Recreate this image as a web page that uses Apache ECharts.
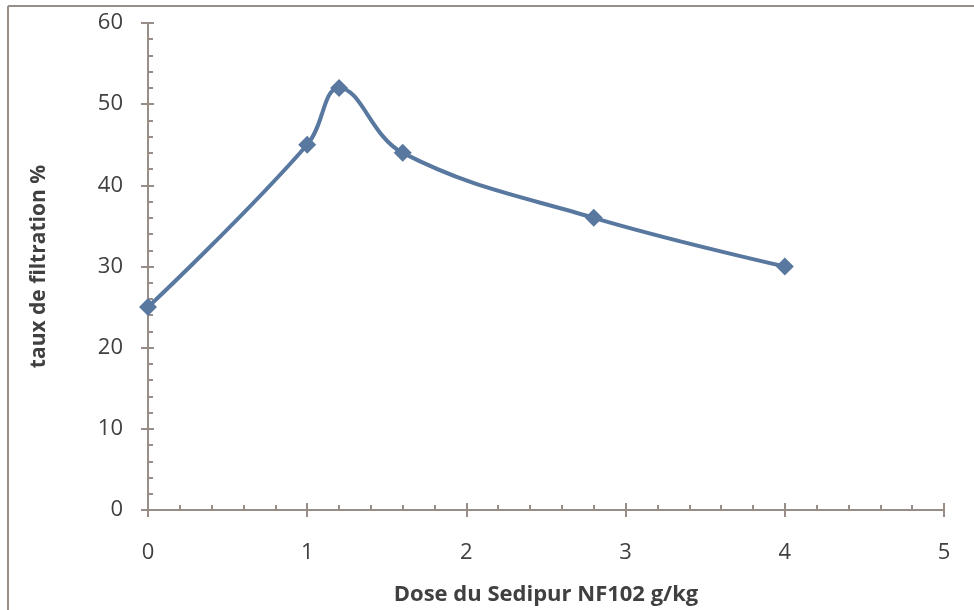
<!DOCTYPE html>
<html><head><meta charset="utf-8">
<script src="https://cdn.jsdelivr.net/npm/echarts@6/dist/echarts.min.js"></script>
<style>html,body{margin:0;padding:0;background:#fff}#c{width:974px;height:610px}</style>
</head><body><div id="c"></div>
<script>
const doses = [0, 1, 1.2, 1.6, 2.8, 4];
const taux = [25, 45, 52, 44, 36, 30];
const xTitle = 'Dose du Sedipur NF102 g/kg';
const yTitle = 'taux de filtration %';

const axisColor = '#998d88';
const textColor = '#404040';
const font = '"Open Sans", "Noto Sans", sans-serif';
const lineColor = '#58789f';

const chart = echarts.init(document.getElementById('c'), null, {renderer: 'canvas'});
const grid = {left: 148, right: 30, top: 23, bottom: 100, containLabel: false, outerBoundsMode: 'none'};
const baseX = {type: 'value', min: 0, max: 5, interval: 1, position: 'bottom', splitLine: {show: false},
  axisLine: {lineStyle: {color: axisColor, width: 2}}};
const baseY = {type: 'value', min: 0, max: 60, interval: 10, position: 'left', splitLine: {show: false},
  axisLine: {lineStyle: {color: axisColor, width: 2}}};
chart.setOption({
  animation: false,
  grid: grid,
  graphic: [
    {type: 'line', shape: {x1: 8, y1: 6, x2: 974, y2: 6}, style: {stroke: axisColor, lineWidth: 2}},
    {type: 'line', shape: {x1: 8, y1: 6, x2: 8, y2: 610}, style: {stroke: axisColor, lineWidth: 2}}
  ],
  xAxis: [
    Object.assign({}, baseX, {
      name: xTitle, nameLocation: 'middle', nameGap: 74,
      nameTextStyle: {color: textColor, fontFamily: font, fontSize: 22, fontWeight: 'bold'},
      axisTick: {show: true, inside: false, length: 7, lineStyle: {color: axisColor, width: 2}},
      axisLabel: {color: textColor, fontFamily: font, fontSize: 22, margin: 32}
    }),
    Object.assign({}, baseX, {
      axisTick: {show: true, inside: true, length: 7, lineStyle: {color: axisColor, width: 2}},
      minorTick: {show: true, splitNumber: 5, length: 5, lineStyle: {color: axisColor, width: 2}},
      axisLabel: {show: false}
    })
  ],
  yAxis: [
    Object.assign({}, baseY, {
      name: yTitle, nameLocation: 'middle', nameGap: 98, nameRotate: 90,
      nameTextStyle: {color: textColor, fontFamily: font, fontSize: 21, fontWeight: 'bold'},
      axisTick: {show: true, inside: false, length: 7, lineStyle: {color: axisColor, width: 2}},
      axisLabel: {color: textColor, fontFamily: font, fontSize: 22, margin: 25}
    }),
    Object.assign({}, baseY, {
      axisTick: {show: true, inside: true, length: 6, lineStyle: {color: axisColor, width: 2}},
      minorTick: {show: true, splitNumber: 5, length: 5, lineStyle: {color: axisColor, width: 2}},
      axisLabel: {show: false}
    })
  ],
  series: [{
    type: 'line',
    xAxisIndex: 0, yAxisIndex: 0,
    data: doses.map((d, i) => [d, taux[i]]),
    smooth: 0.4,
    symbol: 'diamond', symbolSize: 18,
    lineStyle: {color: lineColor, width: 4},
    itemStyle: {color: lineColor}
  }]
});
</script></body></html>
